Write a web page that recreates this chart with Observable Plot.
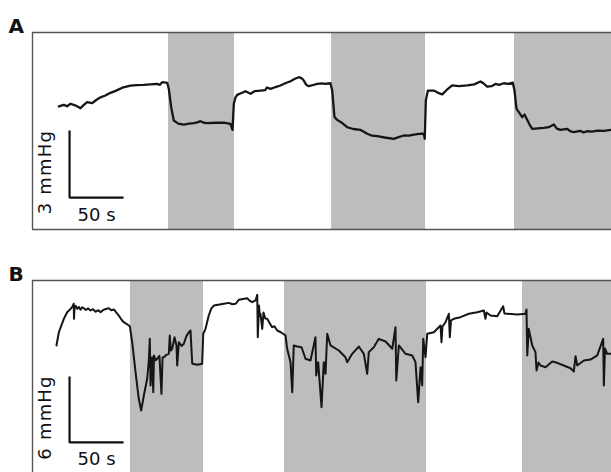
<!DOCTYPE html>
<html>
<head>
<meta charset="utf-8">
<script src="https://cdn.jsdelivr.net/npm/d3@7"></script>
<script src="https://cdn.jsdelivr.net/npm/@observablehq/plot@0.6"></script>
<style>
  html, body { margin: 0; padding: 0; background: #fff; }
  #chart svg { display: block; }
</style>
</head>
<body>
<div id="chart"></div>
<script>
// ---------------- data ----------------
const panelLabels = ["A", "B"];

// Panel A trace: [time (s), pressure (mmHg, relative)]
const aTrace = [[24.4,5.51],[29.0,5.58],[32.0,5.52],[35.2,5.63],[40.0,5.55],[44.4,5.43],[47.5,5.58],[50.6,5.70],
  [55.3,5.66],[59.0,5.80],[63.0,5.92],[67.5,6.00],[72.2,6.12],[77.5,6.22],[83.1,6.35],[87.0,6.40],[90.7,6.44],
  [96.5,6.47],[102.8,6.48],[109.0,6.50],[115.5,6.52],[118.0,6.48],[120.1,6.60],[124.7,6.57],[126.2,6.30],
  [128.4,5.48],[130.8,4.88],[135.0,4.74],[140.1,4.70],[145.0,4.74],[149.4,4.76],[152.5,4.80],[155.6,4.85],
  [158.5,4.78],[161.8,4.76],[170.0,4.78],[177.1,4.79],[183.3,4.73],[185.2,4.46],[186.4,5.63],[188.0,5.92],
  [189.5,6.03],[193.0,6.10],[197.2,6.19],[201.9,6.08],[206.0,6.20],[211.1,6.22],[215.5,6.24],[217.0,6.36],
  [220.4,6.30],[225.0,6.38],[229.6,6.45],[234.0,6.55],[238.9,6.64],[243.0,6.75],[246.6,6.82],[249.0,6.78],
  [251.2,6.67],[253.5,6.48],[255.8,6.42],[259.0,6.46],[263.6,6.52],[268.0,6.54],[271.0,6.52],[275.9,6.55],
  [277.5,6.22],[279.6,5.03],[282.1,4.91],[286.5,4.78],[291.4,4.58],[297.0,4.50],[303.7,4.46],[306.0,4.40],
  [309.9,4.29],[314.5,4.20],[319.2,4.18],[326.0,4.12],[334.5,4.06],[339.0,4.14],[343.8,4.21],[348.5,4.20],
  [353.1,4.25],[358.0,4.28],[362.3,4.29],[363.2,4.06],[364.2,5.78],[366.0,6.22],[371.6,6.22],[375.5,6.12],
  [379.4,6.05],[383.5,6.25],[388.6,6.45],[395.0,6.42],[402.5,6.45],[409.0,6.50],[414.8,6.63],[417.5,6.55],
  [421.0,6.40],[425.0,6.42],[428.7,6.52],[432.0,6.48],[436.4,6.55],[440.5,6.52],[444.7,6.58],[446.3,6.22],
  [448.1,5.41],[453.4,5.03],[455.6,5.15],[457.4,4.97],[460.0,4.72],[462.7,4.51],[468.0,4.53],[473.4,4.55],
  [478.0,4.58],[482.7,4.70],[485.5,4.52],[488.9,4.46],[495.1,4.51],[498.0,4.40],[501.2,4.36],[507.0,4.42],
  [510.0,4.35],[513.6,4.40],[518.0,4.38],[522.9,4.43],[529.0,4.42],[536.1,4.46]];

// Panel B trace: [time (s), pressure (mmHg, relative)]
const bTrace = [[22.2,11.55],[24.4,12.75],[29.0,13.97],[32.1,14.57],[35.0,14.85],[37.0,15.09],[38.2,15.34],
  [38.4,13.97],[38.9,14.91],[40.0,15.15],[41.4,14.88],[43.0,15.05],[44.5,14.80],[46.0,15.02],[47.5,14.94],
  [49.5,14.78],[51.5,14.92],[53.7,14.73],[56.0,14.85],[58.5,14.62],[61.0,14.75],[63.0,14.57],[65.5,14.78],
  [68.0,14.86],[70.6,14.94],[73.0,14.75],[75.3,14.82],[77.5,14.55],[79.9,14.27],[82.0,13.95],[84.5,13.66],
  [87.0,13.52],[90.1,13.30],[92.3,11.85],[95.4,9.12],[98.4,6.70],[100.6,5.64],[103.1,7.00],[106.2,8.52],
  [107.7,10.18],[108.6,12.15],[109.3,7.91],[110.8,10.48],[111.8,7.30],[112.5,10.64],[114.0,10.20],[115.5,10.34],
  [117.5,10.60],[119.4,7.15],[120.4,10.45],[121.6,10.48],[124.0,10.70],[126.2,10.79],[127.1,12.45],[128.1,11.09],
  [129.4,11.25],[131.5,12.30],[133.3,11.55],[134.0,9.73],[135.5,11.85],[138.0,11.50],[140.1,11.70],[142.5,12.40],
  [144.7,12.75],[146.3,12.91],[147.9,9.88],[152.5,9.79],[157.1,9.88],[158.1,12.61],[160.2,13.06],[163.2,14.27],
  [165.5,14.90],[167.9,15.18],[172.0,15.25],[177.1,15.34],[182.0,15.42],[185.0,15.30],[188.0,15.34],[191.0,15.70],
  [195.0,15.78],[198.8,15.85],[201.0,15.62],[203.4,15.48],[206.5,15.64],[208.1,16.15],[208.6,12.30],[209.7,15.18],
  [210.5,14.20],[211.1,14.43],[212.7,13.06],[213.9,14.55],[215.5,14.00],[217.3,13.97],[219.5,13.60],[221.9,13.21],
  [224.0,13.30],[226.6,12.91],[230.0,12.75],[234.3,12.45],[235.8,11.25],[238.9,10.03],[240.5,7.30],[241.9,11.55],
  [245.1,11.45],[249.1,11.39],[252.8,10.34],[257.4,10.18],[262.0,12.30],[262.7,8.82],[264.5,10.03],[267.6,5.94],
  [269.7,10.03],[271.3,8.97],[272.9,12.61],[275.9,11.55],[283.6,11.09],[289.8,10.48],[291.4,10.03],[296.0,10.79],
  [302.1,11.45],[306.8,10.79],[309.9,8.97],[311.4,10.94],[316.0,11.39],[320.6,12.15],[326.9,11.91],[333.1,11.25],
  [336.1,13.21],[336.8,8.36],[339.2,11.55],[345.4,10.79],[351.6,10.64],[354.6,10.03],[357.1,6.39],[359.3,9.57],
  [360.8,7.91],[361.8,12.15],[363.9,10.48],[365.5,12.61],[371.6,12.75],[377.8,13.36],[378.7,11.85],[379.6,13.27],
  [382.4,13.66],[385.5,14.43],[386.4,12.30],[387.5,13.82],[390.1,13.97],[396.3,14.12],[404.0,14.43],[411.8,14.57],
  [417.9,14.73],[419.4,13.97],[420.4,14.55],[424.1,14.27],[430.3,14.21],[435.8,15.12],[437.0,14.45],[439.5,14.43],
  [448.8,14.36],[456.5,14.43],[457.4,14.82],[458.1,10.64],[459.5,13.06],[462.7,11.55],[465.7,10.94],[466.7,9.27],
  [468.5,10.00],[470.4,9.73],[475.0,9.57],[481.2,10.09],[485.8,9.97],[491.9,9.73],[498.1,9.48],[501.2,9.18],
  [502.8,10.57],[504.4,9.73],[510.5,10.18],[516.7,10.27],[522.9,10.64],[528.4,12.15],[529.0,7.91],[530.1,11.27],
  [532.1,10.79],[536.1,10.79]];

// Shaded (stimulus) intervals, seconds
const aBandStart = [125.9, 276.9, 446.3];
const aBandEnd   = [187.0, 363.9, 536.1];
const bBandStart = [90.7, 233.3, 453.7];
const bBandEnd   = [158.3, 364.8, 536.1];

// Scale bars
const scaleTime = 50;
const scaleTimeLabel = "50 s";
const aScalePressure = 3;
const aScaleLabel = "3 mmHg";
const bScalePressure = 6;
const bScaleLabel = "6 mmHg";

// ---------------- drawing ----------------
const tMax = 536.1;
const FONT = "DejaVu Sans";

function panel({label, trace, bandStart, bandEnd, yMax, scaleBase,
                scalePressure, scaleLabel, height, marginTop, marginBottom,
                bottomBorder, strokeWidth, labelDy}) {
  const pts = trace.map(([t, v]) => ({t, v}));
  const bands = bandStart.map((s, i) => ({s, e: bandEnd[i]}));
  const x0 = 34.3; // scale-bar origin (s)
  const bar = [
    {t: x0, v: scaleBase + scalePressure},
    {t: x0, v: scaleBase},
    {t: x0 + scaleTime, v: scaleBase}
  ];
  const marks = [
    Plot.rect(bands, {x1: "s", x2: "e", y1: 0, y2: yMax, fill: "#bdbdbd"}),
    Plot.ruleY([yMax], {stroke: "#555", strokeWidth: 1.4}),
    Plot.ruleX([0], {stroke: "#555", strokeWidth: 1.4}),
  ];
  if (bottomBorder) marks.push(Plot.ruleY([0], {stroke: "#555", strokeWidth: 1.4}));
  marks.push(
    Plot.line(pts, {x: "t", y: "v", stroke: "#151515", strokeWidth, strokeLinejoin: "round"}),
    Plot.line(bar, {x: "t", y: "v", stroke: "#111", strokeWidth: 2.2, strokeLinejoin: "miter", strokeLinecap: "butt"}),
    Plot.text([scaleTimeLabel], {x: x0 + scaleTime / 2, y: scaleBase, dy: 23, text: d => d,
      fontSize: 18, fontFamily: FONT, fill: "#111", lineAnchor: "bottom", textAnchor: "middle"}),
    Plot.text([scaleLabel], {x: x0, y: scaleBase + scalePressure / 2, dx: -24, dy: 8, text: d => d,
      rotate: -90, fontSize: 18, fontFamily: FONT, fill: "#111", textAnchor: "middle", lineAnchor: "middle"}),
    Plot.text([label], {frameAnchor: "top-left", dx: -24, dy: labelDy, text: d => d,
      fontSize: 20, fontWeight: "bold", fontFamily: FONT, fill: "#111", lineAnchor: "bottom", textAnchor: "start"})
  );
  const svg = Plot.plot({
    width: 611,
    height,
    marginLeft: 32,
    marginRight: 0,
    marginTop,
    marginBottom,
    x: {domain: [0, tMax], axis: null},
    y: {domain: [0, yMax], axis: null},
    style: {background: "transparent", overflow: "visible"},
    marks
  });
  d3.select(svg).selectAll("text").filter(function() {
    return this.textContent === scaleLabel;
  }).attr("letter-spacing", "1.2px");
  return svg;
}

const chart = document.getElementById("chart");
chart.append(panel({
  label: panelLabels[0], trace: aTrace,
  bandStart: aBandStart, bandEnd: aBandEnd,
  yMax: 197 / 22.33, scaleBase: 1.43, scalePressure: aScalePressure, scaleLabel: aScaleLabel,
  height: 236, marginTop: 32, marginBottom: 7, bottomBorder: true, strokeWidth: 2.3, labelDy: 0
}));
chart.append(panel({
  label: panelLabels[1], trace: bTrace,
  bandStart: bBandStart, bandEnd: bBandEnd,
  yMax: 192 / 11, scaleBase: 2.73, scalePressure: bScalePressure, scaleLabel: bScaleLabel,
  height: 236, marginTop: 44, marginBottom: 0, bottomBorder: false, strokeWidth: 2.0, labelDy: 0
}));
</script>
</body>
</html>
